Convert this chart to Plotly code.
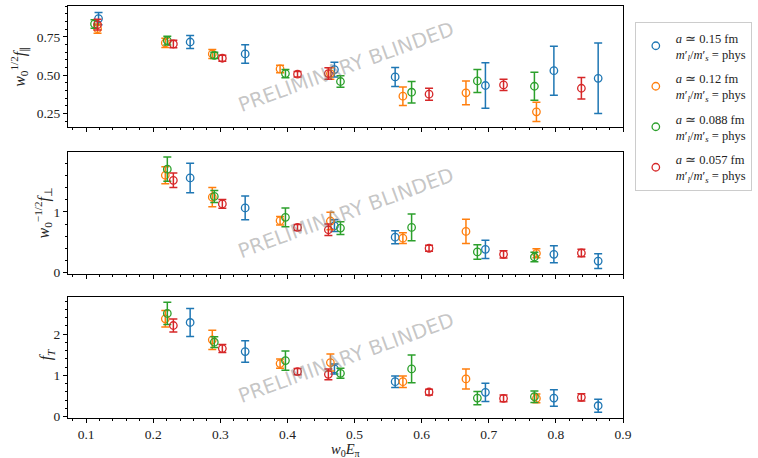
import plotly.graph_objects as go
from plotly.subplots import make_subplots

# ---------------- data ----------------
series_names = ["a ≃ 0.15 fm", "a ≃ 0.12 fm", "a ≃ 0.088 fm", "a ≃ 0.057 fm"]
colors = ["#1f77b4", "#ff7f0e", "#2ca02c", "#d62728"]

# w0 E_pi (first point only present in f_parallel panel)
E_015 = [0.1185, 0.255, 0.337, 0.470, 0.5605, 0.695, 0.797, 0.863]
E_012 = [0.117, 0.218, 0.288, 0.389, 0.464, 0.572, 0.666, 0.771]
E_0088 = [0.1125, 0.221, 0.291, 0.397, 0.479, 0.585, 0.683, 0.768]
E_0057 = [0.117, 0.230, 0.303, 0.415, 0.461, 0.611, 0.722, 0.838]

# w0^{1/2} f_parallel
fpar_015 = [0.870, 0.717, 0.639, 0.537, 0.489, 0.433, 0.530, 0.480]
fpar_015_err = [0.040, 0.043, 0.060, 0.048, 0.062, 0.148, 0.160, 0.230]
fpar_012 = [0.804, 0.711, 0.639, 0.541, 0.511, 0.363, 0.385, 0.261]
fpar_012_err = [0.030, 0.030, 0.029, 0.024, 0.038, 0.060, 0.078, 0.063]
fpar_0088 = [0.835, 0.726, 0.630, 0.511, 0.459, 0.389, 0.463, 0.428]
fpar_0088_err = [0.028, 0.029, 0.020, 0.027, 0.037, 0.070, 0.075, 0.092]
fpar_0057 = [0.830, 0.704, 0.611, 0.507, 0.511, 0.376, 0.437, 0.415]
fpar_0057_err = [0.035, 0.025, 0.019, 0.018, 0.038, 0.039, 0.036, 0.070]

# w0^{-1/2} f_perp
fperp_015 = [1.561, 1.067, 0.772, 0.583, 0.383, 0.300, 0.189]
fperp_015_err = [0.245, 0.195, 0.097, 0.108, 0.150, 0.140, 0.122]
fperp_012 = [1.606, 1.244, 0.856, 0.850, 0.567, 0.678, 0.317]
fperp_012_err = [0.140, 0.160, 0.070, 0.145, 0.090, 0.200, 0.075]
fperp_0088 = [1.706, 1.256, 0.911, 0.733, 0.744, 0.339, 0.256]
fperp_0088_err = [0.200, 0.100, 0.155, 0.105, 0.220, 0.120, 0.078]
fperp_0057 = [1.522, 1.133, 0.744, 0.706, 0.400, 0.300, 0.322]
fperp_0057_err = [0.120, 0.072, 0.050, 0.095, 0.050, 0.060, 0.063]

# f_T
fT_015 = [2.283, 1.579, 1.158, 0.850, 0.591, 0.453, 0.267]
fT_015_err = [0.340, 0.260, 0.120, 0.140, 0.220, 0.200, 0.160]
fT_012 = [2.372, 1.862, 1.287, 1.312, 0.850, 0.915, 0.445]
fT_012_err = [0.200, 0.235, 0.113, 0.205, 0.140, 0.243, 0.105]
fT_0088 = [2.502, 1.806, 1.360, 1.053, 1.158, 0.453, 0.486]
fT_0088_err = [0.270, 0.130, 0.235, 0.120, 0.335, 0.160, 0.140]
fT_0057 = [2.210, 1.652, 1.093, 1.028, 0.599, 0.445, 0.470]
fT_0057_err = [0.160, 0.097, 0.073, 0.130, 0.070, 0.081, 0.089]

E_all = [E_015, E_012, E_0088, E_0057]
fpar_all = [(fpar_015, fpar_015_err), (fpar_012, fpar_012_err),
            (fpar_0088, fpar_0088_err), (fpar_0057, fpar_0057_err)]
fperp_all = [(fperp_015, fperp_015_err), (fperp_012, fperp_012_err),
             (fperp_0088, fperp_0088_err), (fperp_0057, fperp_0057_err)]
fT_all = [(fT_015, fT_015_err), (fT_012, fT_012_err),
          (fT_0088, fT_0088_err), (fT_0057, fT_0057_err)]

# ---------------- figure ----------------
W, H = 758, 458
ml, mr, mt, mb = 68, 126, 6, 40
fig = make_subplots(rows=3, cols=1, shared_xaxes=True, vertical_spacing=0.05)

serif = "Liberation Serif"

def add_panel(row, data, skip_first, showleg):
    for i in range(4):
        xs = E_all[i][1:] if skip_first else E_all[i]
        ys, es = data[i]
        label = (f"<i>a</i> {series_names[i][2:]}<br>"
                 "<i>m</i>′<sub><i>l</i></sub>/<i>m</i>′<sub><i>s</i></sub> = phys")
        fig.add_trace(go.Scatter(
            x=xs, y=ys, mode="markers", name=label,
            legendgroup=f"g{i}", showlegend=showleg,
            marker=dict(symbol="circle-open", size=7.5, color=colors[i],
                        line=dict(width=1.3, color=colors[i])),
            error_y=dict(type="data", array=es, visible=True, color=colors[i],
                         thickness=1.5, width=4),
        ), row=row, col=1)

add_panel(1, fpar_all, False, True)
add_panel(2, fperp_all, True, False)
add_panel(3, fT_all, True, False)

plot_h = H - mt - mb
def dom(top_px, bot_px):
    return [(H - mb - bot_px) / plot_h, (H - mb - top_px) / plot_h]

axis_common = dict(showline=True, linecolor="black", linewidth=1, mirror=True,
                   ticks="outside", ticklen=4, tickwidth=1, tickcolor="black",
                   showgrid=False, zeroline=False,
                   tickfont=dict(family=serif, size=13.5, color="#222"))

fig.update_xaxes(**axis_common, range=[0.073, 0.9], dtick=0.1, tick0=0.1,
                 minor=dict(dtick=0.02, ticklen=2, tickcolor="black", ticks="outside"))
fig.update_xaxes(showticklabels=False, row=1, col=1)
fig.update_xaxes(showticklabels=False, row=2, col=1)
fig.update_xaxes(showticklabels=True, tickformat=".1f", row=3, col=1)

fig.update_yaxes(**axis_common)
fig.update_yaxes(range=[0.162, 0.952], tickvals=[0.25, 0.5, 0.75],
                 ticktext=["0.25", "0.50", "0.75"],
                 minor=dict(dtick=0.05, tick0=0, ticklen=2, tickcolor="black", ticks="outside"),
                 domain=dom(6, 127), row=1, col=1)
fig.update_yaxes(range=[-0.025, 1.99], tickvals=[0, 1],
                 minor=dict(dtick=0.2, tick0=0, ticklen=2, tickcolor="black", ticks="outside"),
                 domain=dom(152, 274), row=2, col=1)
fig.update_yaxes(range=[-0.03, 2.90], tickvals=[0, 1, 2],
                 minor=dict(dtick=0.2, tick0=0, ticklen=2, tickcolor="black", ticks="outside"),
                 domain=dom(297, 418), row=3, col=1)

annotations = []
# watermarks
for xr, yr in [("x", "y"), ("x2", "y2"), ("x3", "y3")]:
    annotations.append(dict(text="PRELIMINARY BLINDED", xref=f"{xr} domain", yref=f"{yr} domain",
                            x=0.5, y=0.5, xanchor="center", yanchor="middle",
                            showarrow=False, textangle=-20,
                            font=dict(family="DejaVu Sans", size=20, color="rgba(128,128,128,0.45)")))
# axis titles
pw = W - ml - mr
def px_x(px):
    return (px - ml) / pw
def px_y(py):
    return (H - mb - py) / plot_h
title_font = dict(family=serif, size=16, color="#222")
annotations.append(dict(text="<i>w</i><sub>0</sub><sup>1/2</sup><i>f</i><sub>∥</sub>",
                        xref="paper", yref="paper", x=px_x(18), y=px_y(66), showarrow=False,
                        xanchor="center", yanchor="middle", textangle=-90, font=title_font))
annotations.append(dict(text="<i>w</i><sub>0</sub><sup>−1/2</sup><i>f</i><sub>⊥</sub>",
                        xref="paper", yref="paper", x=px_x(43), y=px_y(213), showarrow=False,
                        xanchor="center", yanchor="middle", textangle=-90, font=title_font))
annotations.append(dict(text="<i>f<sub>T</sub></i>",
                        xref="paper", yref="paper", x=px_x(46), y=px_y(355), showarrow=False,
                        xanchor="center", yanchor="middle", textangle=-90, font=title_font))
annotations.append(dict(text="<i>w</i><sub>0</sub><i>E</i><sub>π</sub>",
                        xref="paper", yref="paper", x=px_x(350), y=px_y(450), showarrow=False,
                        xanchor="center", yanchor="middle",
                        font=dict(family=serif, size=14.5, color="#222")))

fig.update_layout(
    width=W, height=H,
    margin=dict(l=ml, r=mr, t=mt, b=mb),
    paper_bgcolor="white", plot_bgcolor="white",
    annotations=annotations,
    legend=dict(x=px_x(644), y=px_y(22), xanchor="left", yanchor="top",
                bordercolor="#cccccc", borderwidth=1, bgcolor="white",
                font=dict(family=serif, size=12.5, color="#222"),
                tracegroupgap=5, itemwidth=30),
)

fig.write_html("out.html")
